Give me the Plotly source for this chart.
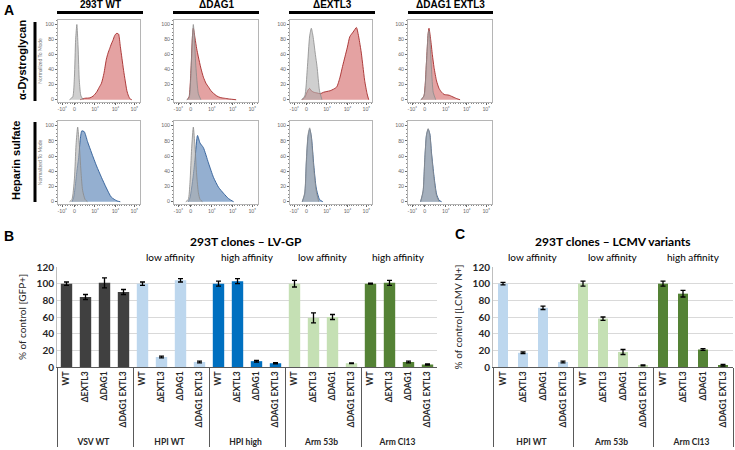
import plotly.graph_objects as go

W, H = 735, 450
FONT = "Lato"

# ---------------- Panel A data (flow cytometry histograms) ----------------
clone_headers = ["293T WT", "ΔDAG1", "ΔEXTL3", "ΔDAG1 EXTL3"]
row_labels = ["α-Dystroglycan", "Heparin sulfate"]
hist_xtick_vals = [0.05, 0.2, 0.45, 0.7, 0.93]
hist_xtick_text = ["-10³", "0", "10³", "10⁴", "10⁵"]
hist_ytick_vals = [0, 20, 40, 60, 80, 100]

# alpha-dystroglycan row: isotype (grey) and stained (red)
dg_wt_iso_x = [0.14, 0.18, 0.20, 0.215, 0.23, 0.245, 0.26, 0.28, 0.31]
dg_wt_iso_y = [0, 4, 30, 80, 100, 70, 25, 5, 0]
dg_wt_x = [0.27, 0.29, 0.33, 0.39, 0.43, 0.47, 0.50, 0.53, 0.56, 0.59, 0.61, 0.63, 0.65,
           0.67, 0.69, 0.71, 0.73, 0.74, 0.76, 0.78, 0.80, 0.82, 0.84, 0.86, 0.88, 0.90]
dg_wt_y = [0, 1, 2, 2.5, 5, 10, 16, 22, 35, 54, 62, 68, 74, 79, 85, 88, 88, 87, 71, 55, 39,
           25, 12, 5, 1, 0]

dg_dag_iso_x = [0.15, 0.18, 0.20, 0.22, 0.23, 0.24, 0.26, 0.29, 0.32]
dg_dag_iso_y = [0, 3, 30, 85, 100, 88, 45, 8, 0]
dg_dag_x = [0.16, 0.18, 0.20, 0.22, 0.23, 0.25, 0.27, 0.29, 0.32, 0.35, 0.38, 0.41, 0.44,
            0.47, 0.51, 0.55, 0.60, 0.66, 0.74]
dg_dag_y = [0, 4, 35, 85, 95, 82, 68, 57, 42, 30, 22, 17, 12, 8.5, 5, 3, 2, 1, 0]

dg_ext_iso_x = [0.14, 0.18, 0.21, 0.24, 0.26, 0.28, 0.31, 0.33, 0.36, 0.39]
dg_ext_iso_y = [0, 5, 40, 85, 95, 85, 60, 44, 12, 0]
dg_ext_x = [0.15, 0.18, 0.20, 0.22, 0.24, 0.26, 0.29, 0.33, 0.37, 0.41, 0.45, 0.49, 0.53, 0.57,
            0.61, 0.64, 0.67, 0.70, 0.73, 0.77, 0.81, 0.83, 0.85, 0.87, 0.89, 0.91, 0.94, 0.96]
dg_ext_y = [0, 3, 8, 13, 15, 12, 10, 9, 8, 10, 11, 12, 14, 17, 30, 44, 57, 70, 84, 90, 96, 88,
            76, 62, 44, 26, 8, 0]

dg_dko_iso_x = [0.15, 0.19, 0.22, 0.24, 0.25, 0.26, 0.28, 0.30, 0.33]
dg_dko_iso_y = [0, 5, 50, 88, 92, 80, 40, 10, 0]
dg_dko_x = [0.16, 0.19, 0.22, 0.24, 0.25, 0.27, 0.29, 0.31, 0.34, 0.37, 0.40, 0.43, 0.46, 0.49,
            0.52, 0.55, 0.58, 0.62]
dg_dko_y = [0, 5, 50, 88, 95, 80, 60, 43, 25, 15, 10, 7, 6.5, 6, 4.5, 3, 1.5, 0]

# heparan sulfate row: isotype (grey) and stained (blue)
hs_wt_iso_x = [0.14, 0.17, 0.20, 0.22, 0.24, 0.26, 0.28, 0.30, 0.33, 0.36]
hs_wt_iso_y = [0, 3, 30, 75, 98, 75, 40, 15, 3, 0]
hs_wt_x = [0.17, 0.19, 0.21, 0.23, 0.25, 0.27, 0.29, 0.32, 0.36, 0.41, 0.47, 0.53, 0.59, 0.65,
           0.72, 0.76]
hs_wt_y = [0, 5, 20, 40, 56, 80, 93, 92, 79, 64, 47, 32, 18, 6, 1, 0]

hs_dag_iso_x = [0.14, 0.17, 0.19, 0.21, 0.23, 0.25, 0.27, 0.29, 0.31, 0.34]
hs_dag_iso_y = [0, 3, 25, 70, 98, 72, 35, 12, 3, 0]
hs_dag_x = [0.17, 0.19, 0.21, 0.23, 0.25, 0.28, 0.31, 0.35, 0.41, 0.47, 0.53, 0.59, 0.65, 0.71]
hs_dag_y = [0, 5, 18, 35, 56, 87, 77, 71, 51, 32, 19, 11, 4, 0]

hs_ext_iso_x = [0.15, 0.18, 0.20, 0.22, 0.24, 0.26, 0.29, 0.32, 0.35]
hs_ext_iso_y = [0, 12, 56, 88, 97, 85, 44, 14, 0]
hs_ext_x = [0.15, 0.18, 0.20, 0.22, 0.24, 0.26, 0.29, 0.32, 0.36, 0.40]
hs_ext_y = [0, 10, 52, 85, 95, 86, 48, 18, 3, 0]

hs_dko_iso_x = [0.15, 0.18, 0.20, 0.22, 0.24, 0.26, 0.28, 0.31, 0.34, 0.37]
hs_dko_iso_y = [0, 15, 57, 88, 96, 88, 62, 30, 8, 0]
hs_dko_x = [0.15, 0.18, 0.20, 0.22, 0.24, 0.26, 0.28, 0.31, 0.34, 0.37, 0.40]
hs_dko_y = [0, 13, 55, 87, 95, 89, 64, 33, 10, 2, 0]

# ---------------- Panel B data ----------------
clones = ["WT", "ΔEXTL3", "ΔDAG1", "ΔDAG1 EXTL3"]
b_groups = ["VSV WT", "HPI WT", "HPI high", "Arm 53b", "Arm Cl13"]
b_affinity = ["", "low affinity", "high affinity", "low affinity", "high affinity"]
b_colors = ["#404040", "#BDD7EE", "#0070C0", "#C5E0B4", "#548235"]
b_vsv_wt = [100, 84, 101, 90]
b_hpi_wt = [100, 12, 104, 6]
b_hpi_high = [100, 103, 7, 4.5]
b_arm_53b = [100, 59, 60, 4.5]
b_arm_cl13 = [100, 101, 6, 3]
b_vsv_wt_err = [2, 3, 6, 3]
b_hpi_wt_err = [2, 1, 2, 1]
b_hpi_high_err = [3, 3, 1, 0.7]
b_arm_53b_err = [4, 6, 3, 0.5]
b_arm_cl13_err = [0.5, 3, 1, 0.8]

# ---------------- Panel C data ----------------
c_groups = ["HPI WT", "Arm 53b", "Arm Cl13"]
c_affinity = ["low affinity", "low affinity", "high affinity"]
c_colors = ["#BDD7EE", "#C5E0B4", "#548235"]
c_hpi_wt = [100, 17, 71, 6]
c_arm_53b = [100, 58, 18, 2]
c_arm_cl13 = [100, 88, 21, 2]
c_hpi_wt_err = [1.5, 1, 2, 1]
c_arm_53b_err = [3, 2, 3, 0.5]
c_arm_cl13_err = [3, 4, 1, 1]


def pxx(x):
    return x / W


def pxy(y):
    return 1 - y / H


fig = go.Figure()
layout = dict(
    width=W, height=H, margin=dict(l=0, r=0, t=0, b=0, autoexpand=False),
    paper_bgcolor="white", plot_bgcolor="white", showlegend=False,
    font=dict(family=FONT, color="#262626"), barmode="overlay",
)

# ---------- Panel A ----------
col_px = [(58, 140), (174, 258), (290, 372), (408, 492)]
row_px = [(20, 102), (121, 204)]
row_curves = [
    [(dg_wt_iso_x, dg_wt_iso_y, dg_wt_x, dg_wt_y),
     (dg_dag_iso_x, dg_dag_iso_y, dg_dag_x, dg_dag_y),
     (dg_ext_iso_x, dg_ext_iso_y, dg_ext_x, dg_ext_y),
     (dg_dko_iso_x, dg_dko_iso_y, dg_dko_x, dg_dko_y)],
    [(hs_wt_iso_x, hs_wt_iso_y, hs_wt_x, hs_wt_y),
     (hs_dag_iso_x, hs_dag_iso_y, hs_dag_x, hs_dag_y),
     (hs_ext_iso_x, hs_ext_iso_y, hs_ext_x, hs_ext_y),
     (hs_dko_iso_x, hs_dko_iso_y, hs_dko_x, hs_dko_y)],
]
row_style = [("rgba(205,85,85,0.55)", "#a52a2a"), ("rgba(60,110,170,0.55)", "#2b5a95")]

k = 3
for r in range(2):
    for c in range(4):
        ix, iy, sx, sy = row_curves[r][c]
        xa, ya = f"x{k}", f"y{k}"
        fill, line = row_style[r]
        fig.add_trace(go.Scatter(x=sx, y=sy, xaxis=xa, yaxis=ya, mode="lines",
                                 line=dict(color=line, width=0.9, shape="spline", smoothing=0.6),
                                 fill="tozeroy", fillcolor=fill, hoverinfo="skip"))
        fig.add_trace(go.Scatter(x=ix, y=iy, xaxis=xa, yaxis=ya, mode="lines",
                                 line=dict(color="#8a8a8a", width=0.8, shape="spline", smoothing=0.6),
                                 fill="tozeroy", fillcolor="rgba(175,175,175,0.6)", hoverinfo="skip"))
        x0, x1 = col_px[c]
        y0, y1 = row_px[r]
        layout[f"xaxis{k}"] = dict(
            domain=[pxx(x0), pxx(x1)], anchor=ya, range=[0, 1], showgrid=False, zeroline=False,
            automargin=False,
            showline=True, mirror=True, linecolor="#b5b5b5", linewidth=1,
            tickmode="array", tickvals=hist_xtick_vals, ticktext=hist_xtick_text,
            ticks="outside", ticklen=2, tickwidth=0.6, tickcolor="#666",
            tickfont=dict(size=5, color="#666"),
            minor=dict(tickmode="linear", tick0=0, dtick=0.03, ticks="outside", ticklen=1.2,
                       tickcolor="#888", tickwidth=0.5),
        )
        yax = dict(
            domain=[pxy(y1), pxy(y0)], anchor=xa, range=[-3, 106], showgrid=False, zeroline=False,
            automargin=False,
            showline=True, mirror=True, linecolor="#b5b5b5", linewidth=1,
            tickmode="array", tickvals=hist_ytick_vals,
            ticks="outside", ticklen=2, tickwidth=0.6, tickcolor="#666",
            tickfont=dict(size=5, color="#666"),
            minor=dict(tickmode="linear", tick0=0, dtick=5, ticks="outside", ticklen=1.2,
                       tickcolor="#888", tickwidth=0.5),
        )
        if c == 0:
            yax["title"] = dict(text="Normalized To Mode", font=dict(size=5, color="#777"), standoff=2)
        layout[f"yaxis{k}"] = yax
        k += 1

annotations = []
shapes = []


def label(text, x, y, size, bold=False, family=FONT, angle=0, xanchor="center", yanchor="middle",
          color="black"):
    annotations.append(dict(text=f"<b>{text}</b>" if bold else text, x=pxx(x), y=pxy(y),
                            xref="paper", yref="paper", xanchor=xanchor, yanchor=yanchor,
                            showarrow=False, textangle=angle,
                            font=dict(size=size, color=color, family=family)))


label("A", 2, 0, 14, bold=True, xanchor="left", yanchor="top", family="Liberation Sans")
header_centers = [100, 216, 332, 450]
header_bars = [(57, 143), (173, 259), (289, 375), (408, 493)]
for name, cx, (bx0, bx1) in zip(clone_headers, header_centers, header_bars):
    label(name, cx, 4.5, 10, bold=True, family="Liberation Sans")
    shapes.append(dict(type="line", xref="paper", yref="paper", x0=pxx(bx0), x1=pxx(bx1),
                       y0=pxy(12.5), y1=pxy(12.5), line=dict(color="black", width=3)))
row_label_pos = [(22, 60), (16, 161)]
row_bars = [(22, 101), (122, 202)]
for name, (lx, ly), (by0, by1) in zip(row_labels, row_label_pos, row_bars):
    label(name, lx, ly, 11, bold=True, family="Liberation Sans", angle=-90)
    shapes.append(dict(type="line", xref="paper", yref="paper", x0=pxx(35), x1=pxx(35),
                       y0=pxy(by0), y1=pxy(by1), line=dict(color="black", width=3)))

# ---------- Panels B and C ----------
def bar_trace(groups, series, errs, colors, xa, ya, width):
    gx, cx, vals, ev, cols = [], [], [], [], []
    for g, s, e, col in zip(groups, series, errs, colors):
        for cl, v, er in zip(clones, s, e):
            gx.append(g)
            cx.append(cl)
            vals.append(v)
            ev.append(er)
            cols.append(col)
    return go.Bar(x=[gx, cx], y=vals, marker=dict(color=cols, line=dict(width=0)), width=width,
                  error_y=dict(type="data", array=ev, color="black", thickness=1.3, width=2.5),
                  xaxis=xa, yaxis=ya, hoverinfo="skip")


fig.add_trace(bar_trace(b_groups,
                        [b_vsv_wt, b_hpi_wt, b_hpi_high, b_arm_53b, b_arm_cl13],
                        [b_vsv_wt_err, b_hpi_wt_err, b_hpi_high_err, b_arm_53b_err, b_arm_cl13_err],
                        b_colors, "x", "y", 0.6))
fig.add_trace(bar_trace(c_groups,
                        [c_hpi_wt, c_arm_53b, c_arm_cl13],
                        [c_hpi_wt_err, c_arm_53b_err, c_arm_cl13_err],
                        c_colors, "x2", "y2", 0.5))

bar_y = [pxy(367), pxy(267)]


def cat_axis(domain, anchor):
    return dict(domain=domain, anchor=anchor, type="multicategory", tickangle=-90, automargin=False,
                tickfont=dict(size=8.5, color="#262626", family=FONT, weight="bold"),
                showline=True, linecolor="#595959", linewidth=1, ticks="",
                showdividers=True, dividercolor="#595959", dividerwidth=1, showgrid=False)


def val_axis(domain, anchor, title):
    return dict(domain=domain, anchor=anchor, range=[0, 120], tickmode="linear", tick0=0, dtick=20,
                automargin=False,
                showgrid=True, gridcolor="#d9d9d9", gridwidth=1, zeroline=False,
                showline=True, linecolor="#bfbfbf", linewidth=1,
                tickfont=dict(size=10, color="#262626", family=FONT, weight="bold"),
                title=dict(text=title, font=dict(size=10, color="#262626", family=FONT), standoff=8))


layout["xaxis"] = cat_axis([pxx(57), pxx(437)], "y")
layout["yaxis"] = val_axis(bar_y, "x", "% of control [GFP+]")
layout["xaxis2"] = cat_axis([pxx(493), pxx(733)], "y2")
layout["yaxis2"] = val_axis(bar_y, "x2", "% of control [LCMV N+]")

label("B", 2, 226, 14, bold=True, xanchor="left", yanchor="top", family="Liberation Sans")
label("C", 453, 224, 14, bold=True, xanchor="left", yanchor="top", family="Liberation Sans")
label("293T clones – LV-GP", 246, 241, 12, bold=True)
label("293T clones – LCMV variants", 613, 241, 12, bold=True)
b_aff_x = [95, 171, 247, 323, 399]
for txt, ax_ in zip(b_affinity, b_aff_x):
    if txt:
        label(txt, ax_, 257, 10)
c_aff_x = [533, 613, 693]
for txt, ax_ in zip(c_affinity, c_aff_x):
    label(txt, ax_, 257, 10)

layout["annotations"] = annotations
layout["shapes"] = shapes
fig.update_layout(**layout)
fig.write_html("out.html", config={"displayModeBar": False},
               post_script="document.body.style.margin='0px';document.body.style.overflow='hidden';")
